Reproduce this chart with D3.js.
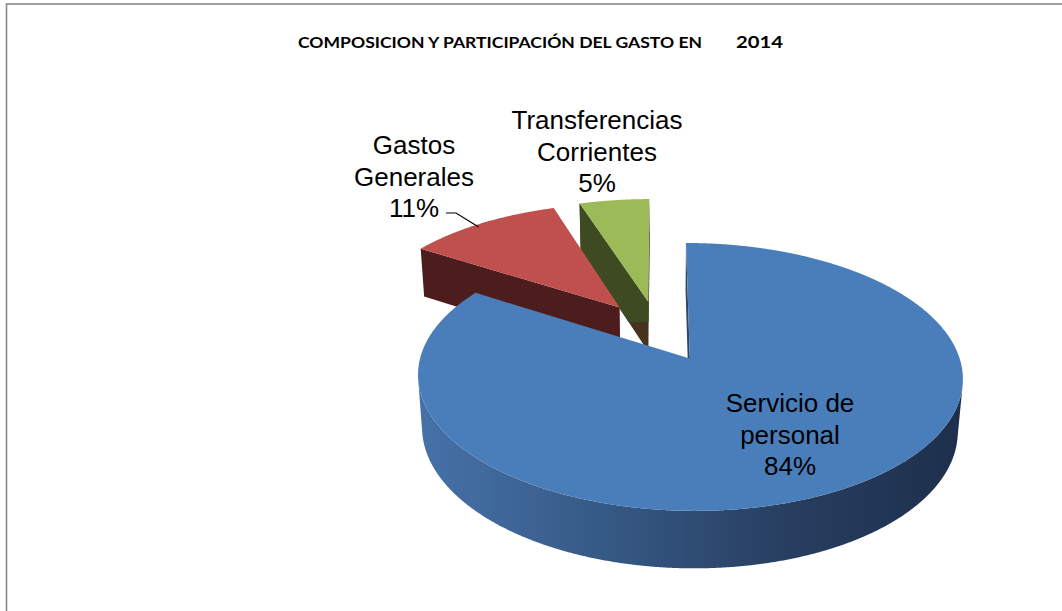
<!DOCTYPE html>
<html>
<meta charset="utf-8">
<style>
  body { margin: 0; background: #fff; }
  .title { font-family: Lato, "Open Sans", sans-serif; font-weight: bold; fill: #000; }
  .lbl { font-family: "Liberation Sans", Arial, sans-serif; font-size: 26px; fill: #000; }
</style>
<body>
<script src="https://cdn.jsdelivr.net/npm/d3@7"></script>
<script>

// data
var categories = ["Servicio de personal", "Gastos Generales", "Transferencias Corrientes"];
var shares = [84, 11, 5];
var pctLabels = ["84%", "11%", "5%"];
var labelLines = [["Servicio de", "personal"], ["Gastos", "Generales"], ["Transferencias", "Corrientes"]];

// colours: top face, outer wall (light -> dark), cut face, lower part of cut face
var topColors  = ["#4a7ebb", "#c0504d", "#9bbb59"];
var wallColors = [["#4672a9", "#365a86", "#283f61", "#1d2f4c"], ["#6e2a29", "#4f1d1d"], ["#4d5e24", "#3b4a1b"]];
var cutColors  = ["#2c4768", "#4d1d1d", "#3e4a21"];
var cutLower   = [null, null, "#46331f"];

var width = 1062, height = 611;

var svg = d3.select("body").append("svg")
    .attr("width", width)
    .attr("height", height);

// chart frame (runs off the right and bottom edges)
svg.append("rect")
    .attr("x", 6.5).attr("y", 4)
    .attr("width", width + 20).attr("height", height + 20)
    .attr("fill", "none")
    .attr("stroke", "#8a8a8a")
    .attr("stroke-width", 1.6);

// title
var title = svg.append("text").attr("class", "title").attr("y", 48);
title.append("tspan").attr("x", 298).attr("font-size", 15)
    .attr("textLength", 404).attr("lengthAdjust", "spacingAndGlyphs")
    .text("COMPOSICION Y PARTICIPACIÓN DEL GASTO EN");
title.append("tspan").attr("x", 736).attr("font-size", 17)
    .attr("textLength", 47).attr("lengthAdjust", "spacingAndGlyphs")
    .text("2014");

// 3d pie set-up: unit radius, camera tilted and with some perspective
var S = 262, D = 6.56, H = 0.225, explode = 0.245;
var cx = 658, cy = 331;
var sinP = 0.473, cosP = Math.sqrt(1 - sinP * sinP);
var cam = [0, D * sinP, D * cosP];

function proj(p) {
  var up = p[1] * cosP - p[2] * sinP;
  var w = p[1] * sinP + p[2] * cosP;
  var f = D / (D - w);
  return [cx + S * p[0] * f, cy - S * up * f];
}
function facing(n, p) {
  return n[0] * (cam[0] - p[0]) + n[1] * (cam[1] - p[1]) + n[2] * (cam[2] - p[2]) > 0;
}

var arcs = d3.pie().sort(null).value(function (d) { return d; })(shares);
var line = d3.line();
var defs = svg.append("defs");
var step = Math.PI / 720;

var slices = arcs.map(function (a, i) {
  var mid = (a.startAngle + a.endAngle) / 2;
  var ox = explode * Math.sin(mid), oz = -explode * Math.cos(mid);
  return {
    i: i, a0: a.startAngle, a1: a.endAngle, mid: mid,
    pt: function (t, r, y) { return [ox + r * Math.sin(t), y, oz - r * Math.cos(t)]; },
    depth: oz * cosP
  };
});

function angles(a0, a1) {
  var out = [];
  for (var t = a0; t < a1; t += step) out.push(t);
  out.push(a1);
  return out;
}

// back to front
slices.slice().sort(function (a, b) { return a.depth - b.depth; }).forEach(function (s) {
  var g = svg.append("g");
  var i = s.i;

  // outer wall: only the runs that face the camera
  var runs = [], cur = null;
  angles(s.a0, s.a1).forEach(function (t) {
    var ok = facing([Math.sin(t), 0, -Math.cos(t)], s.pt(t, 1, -H / 2));
    if (ok) { if (!cur) { cur = []; runs.push(cur); } cur.push(t); }
    else cur = null;
  });
  runs.forEach(function (run, k) {
    var topPts = run.map(function (t) { return proj(s.pt(t, 1, 0)); });
    var botPts = run.slice().reverse().map(function (t) { return proj(s.pt(t, 1, -H)); });
    var pts = topPts.concat(botPts);
    var xs = d3.extent(pts, function (p) { return p[0]; });
    var id = "wall" + i + "_" + k;
    var grad = defs.append("linearGradient").attr("id", id)
        .attr("gradientUnits", "userSpaceOnUse")
        .attr("x1", xs[0]).attr("x2", xs[1]).attr("y1", 0).attr("y2", 0);
    wallColors[i].forEach(function (c, j, arr) {
      grad.append("stop").attr("offset", j / (arr.length - 1)).attr("stop-color", c);
    });
    g.append("path").attr("d", line(pts) + "Z").attr("fill", "url(#" + id + ")");
  });

  // radial cut faces
  [[s.a0, [-Math.cos(s.a0), 0, -Math.sin(s.a0)]], [s.a1, [Math.cos(s.a1), 0, Math.sin(s.a1)]]]
    .forEach(function (e, k) {
      var t = e[0];
      if (!facing(e[1], s.pt(t, 0.5, -H / 2))) return;
      var pts = [s.pt(t, 0, 0), s.pt(t, 1, 0), s.pt(t, 1, -H), s.pt(t, 0, -H)].map(proj);
      var d = line(pts) + "Z";
      if (cutLower[i]) {
        g.append("path").attr("d", d).attr("fill", cutLower[i]);
        var yTop = pts[0][1], yBot = pts[3][1];
        var split = yTop + 0.4 * (yBot - yTop);
        var cid = "cut" + i + "_" + k;
        defs.append("clipPath").attr("id", cid).append("rect")
            .attr("x", 0).attr("y", 0).attr("width", width).attr("height", split);
        g.append("path").attr("d", d).attr("fill", cutColors[i]).attr("clip-path", "url(#" + cid + ")");
      } else {
        g.append("path").attr("d", d).attr("fill", cutColors[i]);
      }
    });

  // top face
  var topPts = [proj(s.pt(0, 0, 0))].concat(angles(s.a0, s.a1).map(function (t) { return proj(s.pt(t, 1, 0)); }));
  g.append("path").attr("d", line(topPts) + "Z").attr("fill", topColors[i]);
});

// data labels
var labelPos = [[790, 412], [414, 154], [597, 129]];
var lineGap = 31.5;
labelLines.forEach(function (lines, i) {
  var t = svg.append("text").attr("class", "lbl").attr("text-anchor", "middle");
  lines.concat([pctLabels[i]]).forEach(function (txt, j) {
    t.append("tspan").attr("x", labelPos[i][0]).attr("y", labelPos[i][1] + j * lineGap).text(txt);
  });
});

// leader line for Gastos Generales
var red = slices[1];
var end = proj(red.pt(red.mid, 0.99, 0));
svg.append("path")
    .attr("d", line([[446, 213], [456, 213], [end[0] - 4, end[1] + 3]]))
    .attr("fill", "none")
    .attr("stroke", "#000")
    .attr("stroke-width", 1.2);

</script>
</body>
</html>
